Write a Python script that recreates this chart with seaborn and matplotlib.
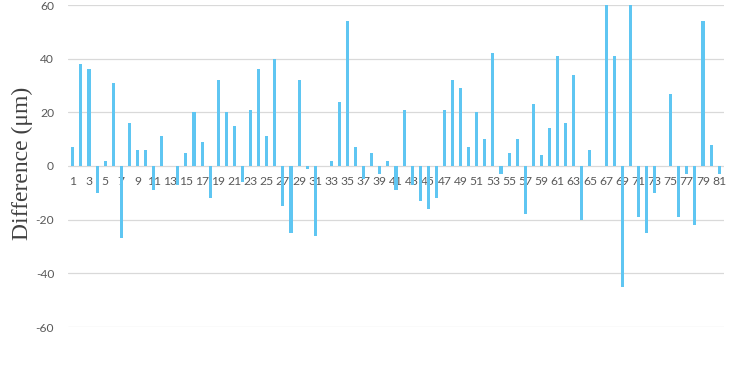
import matplotlib
matplotlib.use("Agg")
import matplotlib.pyplot as plt
import seaborn as sns
import pandas as pd

samples = [str(i) for i in range(1, 82)]
differences = [
    7, 38, 36, -10, 2, 31, -27, 16, 6, 6,
    -9, 11, 0, -7, 5, 20, 9, -12, 32, 20,
    15, -6, 21, 36, 11, 40, -15, -25, 32, -1,
    -26, 0, 2, 24, 54, 7, -5, 5, -3, 2,
    -9, 21, -7, -13, -16, -12, 21, 32, 29, 7,
    20, 10, 42, -3, 5, 10, -18, 23, 4, 14,
    41, 16, 34, -20, 6, 0, 60, 41, -45, 60,
    -19, -25, -10, 0, 27, -19, -3, -22, 54, 8,
    -3,
]
y_ticks = [-60, -40, -20, 0, 20, 40, 60]
y_label = "Difference (\u03bcm)"

df = pd.DataFrame({"sample": samples, "diff": differences})

sns.set_theme(style="white")
plt.rcParams["font.family"] = ["Lato", "DejaVu Sans"]

fig = plt.figure(figsize=(7.46, 3.65), dpi=100)
ax = fig.add_axes([68 / 746, 38 / 365, (724 - 68) / 746, 322 / 365])

for t in y_ticks:
    ax.axhline(t, color="#d9d9d9", linewidth=0.9, zorder=0)

sns.barplot(data=df, x="sample", y="diff", color="#5fc6f2", width=0.38,
            saturation=1, ax=ax, zorder=2, order=samples, linewidth=0)
for p in ax.patches:
    p.set_antialiased(False)

ax.spines["bottom"].set_position(("data", 0))
for s in ax.spines.values():
    s.set_visible(False)

ax.set_ylim(-60, 60)
ax.set_xlim(-0.6, 80.6)
ax.set_yticks(y_ticks)
ax.set_yticklabels([str(t) for t in y_ticks])
ax.set_xticks(range(0, 81, 2))
ax.set_xticklabels(samples[::2])
ax.tick_params(axis="both", length=0, labelcolor="#595959")
ax.tick_params(axis="x", pad=7, labelsize=8.7)
ax.tick_params(axis="y", pad=10, labelsize=8.7)

ax.set_xlabel("")
ax.set_ylabel("")
fig.text(0.03, (365 - 163) / 365, y_label, rotation=90, ha="center", va="center",
         fontsize=17, color="#404040", family=["Liberation Serif", "DejaVu Serif"])

fig.savefig("out.png", dpi=100, facecolor="white")
